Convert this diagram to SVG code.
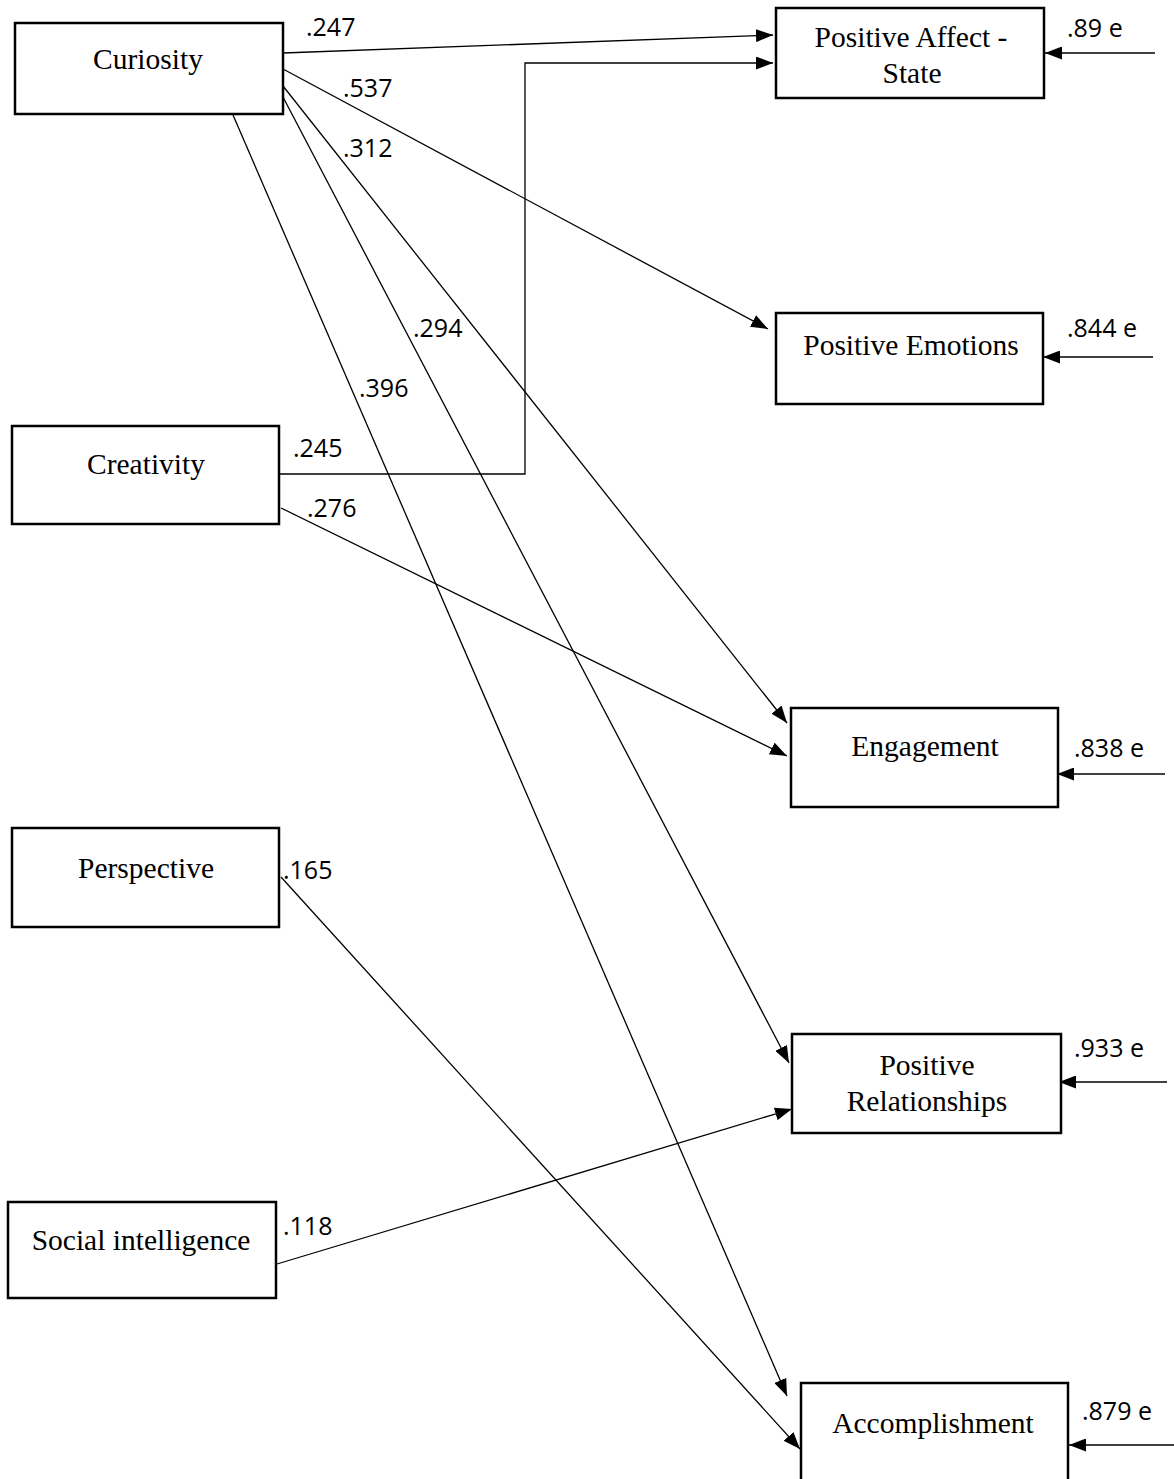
<svg xmlns="http://www.w3.org/2000/svg" width="1174" height="1479" viewBox="0 0 1174 1479">
<style>
.box{fill:#fff;stroke:#000;stroke-width:2.5}
.nt{font-family:"Liberation Serif","Times New Roman",serif;font-size:29.5px;fill:#000;text-anchor:middle}
.lb{font-family:"Open Sans","Noto Sans",sans-serif;font-size:25px;fill:#000}
.ln{fill:none;stroke:#000;stroke-width:1.3}
</style>
<defs>
<marker id="ah" markerUnits="userSpaceOnUse" markerWidth="17" markerHeight="13" refX="17" refY="6.5" orient="auto">
<path d="M0,0 L17,6.5 L0,13 z" fill="#000"/>
</marker>
</defs>
<rect width="1174" height="1479" fill="#fff"/>
<g id="connectors">
<line class="ln" x1="283" y1="53" x2="773" y2="35" marker-end="url(#ah)"/>
<polyline class="ln" points="276,474 525,474 525,63 773,63" marker-end="url(#ah)"/>
<line class="ln" x1="283" y1="69" x2="768" y2="329" marker-end="url(#ah)"/>
<line class="ln" x1="283" y1="86" x2="787" y2="723" marker-end="url(#ah)"/>
<line class="ln" x1="283" y1="97" x2="789" y2="1063" marker-end="url(#ah)"/>
<line class="ln" x1="233" y1="115" x2="787" y2="1396" marker-end="url(#ah)"/>
<line class="ln" x1="281" y1="508" x2="787" y2="756" marker-end="url(#ah)"/>
<line class="ln" x1="281" y1="877" x2="800" y2="1449" marker-end="url(#ah)"/>
<line class="ln" x1="277" y1="1264" x2="792" y2="1109" marker-end="url(#ah)"/>
<line class="ln" x1="1155" y1="53" x2="1045" y2="53" marker-end="url(#ah)"/>
<line class="ln" x1="1153" y1="357" x2="1043" y2="357" marker-end="url(#ah)"/>
<line class="ln" x1="1165" y1="774" x2="1057" y2="774" marker-end="url(#ah)"/>
<line class="ln" x1="1167" y1="1082" x2="1059" y2="1082" marker-end="url(#ah)"/>
<line class="ln" x1="1174" y1="1445" x2="1069" y2="1445" marker-end="url(#ah)"/>
</g>
<g id="labels">
<text class="lb" x="306" y="36">.247</text>
<text class="lb" x="343" y="97">.537</text>
<text class="lb" x="343" y="157">.312</text>
<text class="lb" x="413" y="337">.294</text>
<text class="lb" x="359" y="397">.396</text>
<text class="lb" x="293" y="457">.245</text>
<text class="lb" x="307" y="517">.276</text>
<text class="lb" x="283" y="879">.165</text>
<text class="lb" x="283" y="1235">.118</text>
<text class="lb" x="1067" y="37">.89 e</text>
<text class="lb" x="1067" y="337">.844 e</text>
<text class="lb" x="1074" y="757">.838 e</text>
<text class="lb" x="1074" y="1057">.933 e</text>
<text class="lb" x="1082" y="1420">.879 e</text>
</g>
<g id="curiosity"><rect class="box" x="15" y="23" width="268" height="91"/><text class="nt" x="148" y="69">Curiosity</text></g>
<g id="creativity"><rect class="box" x="12" y="426" width="267" height="98"/><text class="nt" x="146" y="474">Creativity</text></g>
<g id="perspective"><rect class="box" x="12" y="828" width="267" height="99"/><text class="nt" x="146" y="878">Perspective</text></g>
<g id="social"><rect class="box" x="8" y="1202" width="268" height="96"/><text class="nt" x="141" y="1250">Social intelligence</text></g>
<g id="positive-affect"><rect class="box" x="776" y="8" width="268" height="90"/><text class="nt" x="911" y="47">Positive Affect -</text><text class="nt" x="912" y="83">State</text></g>
<g id="positive-emotions"><rect class="box" x="776" y="313" width="267" height="91"/><text class="nt" x="911" y="355">Positive Emotions</text></g>
<g id="engagement"><rect class="box" x="791" y="708" width="267" height="99"/><text class="nt" x="925" y="756">Engagement</text></g>
<g id="positive-relationships"><rect class="box" x="792" y="1034" width="269" height="99"/><text class="nt" x="927" y="1075">Positive</text><text class="nt" x="927" y="1111">Relationships</text></g>
<g id="accomplishment"><rect class="box" x="801" y="1383" width="267" height="110"/><text class="nt" x="933" y="1433">Accomplishment</text></g>
</svg>
